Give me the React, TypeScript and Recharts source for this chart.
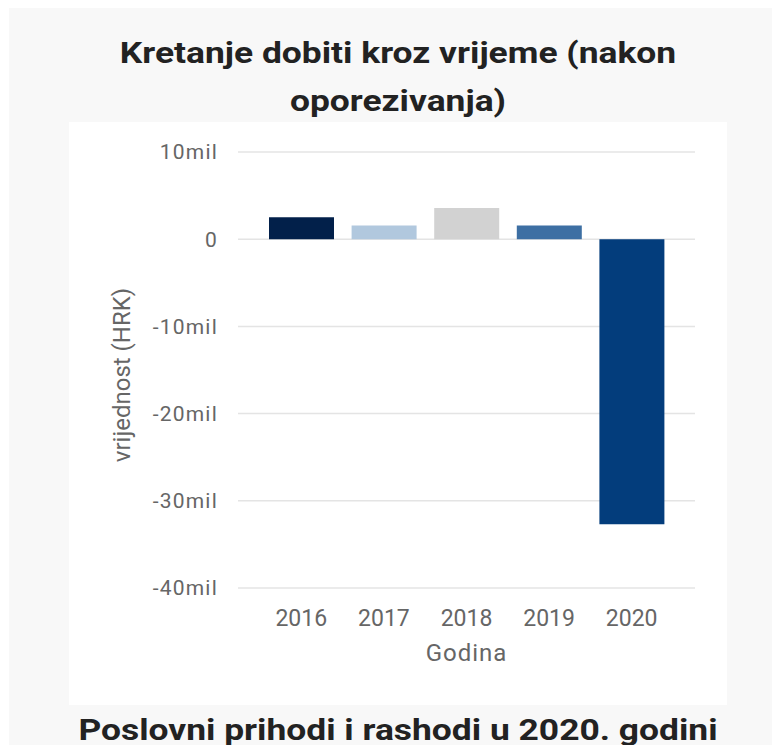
import { BarChart, Bar, XAxis, YAxis, CartesianGrid, Cell } from 'recharts';

// profit after tax, in HRK
const years = ['2016', '2017', '2018', '2019', '2020'];
const profit = [2.52e6, 1.57e6, 3.58e6, 1.57e6, -32.7e6];
const barColors = ['#02204a', '#b1c8de', '#d2d2d2', '#3d6fa3', '#033d7c'];
const yTicks = [10e6, 0, -10e6, -20e6, -30e6, -40e6];

const data = years.map((year, i) => ({ year, profit: profit[i] }));

const formatMil = (v: number) => (v === 0 ? '0' : `${v / 1e6}mil`);

const FONT = 'Roboto, "Noto Sans", sans-serif';

// rotated y-axis title, placed inside the axis box
const YAxisTitle = ({ viewBox }: any) => {
    const cx = viewBox.x + 53;
    const cy = viewBox.y + viewBox.height / 2 + 5;
    return (
        <text
            x={cx}
            y={cy}
            transform={`rotate(-90, ${cx}, ${cy})`}
            textAnchor="middle"
            dominantBaseline="central"
            fill="#666666"
            fontSize={24}
            fontFamily={FONT}
        >
            vrijednost (HRK)
        </text>
    );
};

// headings in the reference are a touch wider than Roboto bold
const headingStyle = {
    position: 'absolute' as const,
    left: 69,
    width: 658,
    textAlign: 'center' as const,
    fontSize: 30,
    lineHeight: '48px',
    fontWeight: 700,
    color: '#222222',
    whiteSpace: 'nowrap' as const,
    transform: 'scaleX(1.18)',
    transformOrigin: '329px 0',
};

export default function App() {
    return (
        <div
            style={{
                position: 'relative',
                width: 781,
                height: 753,
                margin: -8,
                background: '#ffffff',
                overflow: 'hidden',
                fontFamily: FONT,
            }}
        >
            {/* light grey card behind everything */}
            <div style={{ position: 'absolute', left: 9, top: 8, width: 763, height: 745, background: '#f8f8f8' }} />

            <div style={{ ...headingStyle, top: 29 }}>
                Kretanje dobiti kroz vrijeme (nakon
                <br />
                oporezivanja)
            </div>

            <div style={{ position: 'absolute', left: 69, top: 122, width: 658, height: 583, background: '#ffffff' }}>
                <BarChart
                    width={658}
                    height={583}
                    data={data}
                    margin={{ top: 30, right: 32, left: 0, bottom: 0 }}
                >
                    <CartesianGrid vertical={false} stroke="#e4e4e4" strokeWidth={1.5} />
                    <XAxis
                        dataKey="year"
                        axisLine={false}
                        tickLine={false}
                        padding={{ left: 22, right: 22 }}
                        height={117}
                        tickMargin={16}
                        tick={{ fill: '#666666', fontSize: 23, fontFamily: FONT }}
                        label={{
                            value: 'Godina',
                            position: 'insideBottom',
                            offset: 44,
                            fill: '#666666',
                            fontSize: 24,
                            letterSpacing: 1,
                            fontFamily: FONT,
                        }}
                    />
                    <YAxis
                        type="number"
                        domain={[-40e6, 10e6]}
                        ticks={yTicks}
                        interval={0}
                        width={169}
                        axisLine={false}
                        tickLine={false}
                        tickMargin={14}
                        tickFormatter={formatMil}
                        tick={{ fill: '#666666', fontSize: 21, letterSpacing: 1.2, fontFamily: FONT }}
                        label={<YAxisTitle />}
                    />
                    <Bar dataKey="profit" barSize={65} isAnimationActive={false}>
                        {data.map((d, i) => (
                            <Cell key={d.year} fill={barColors[i]} />
                        ))}
                    </Bar>
                </BarChart>
            </div>

            <div style={{ ...headingStyle, top: 706 }}>Poslovni prihodi i rashodi u 2020. godini</div>
        </div>
    );
}
